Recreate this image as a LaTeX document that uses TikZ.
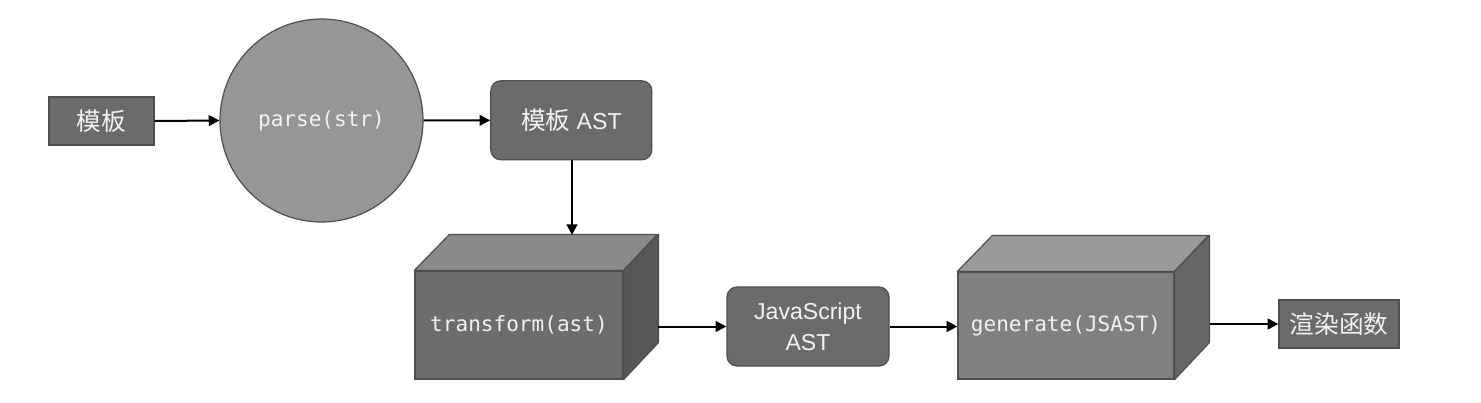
\documentclass[tikz,border=0pt]{standalone}
\usepackage{fontspec}
\setmainfont{Liberation Sans}
\newfontfamily\cjk{Noto Sans CJK SC}
\newfontfamily\monof{DejaVu Sans Mono}
\usetikzlibrary{arrows.meta}
\definecolor{boxfill}{HTML}{6B6B6B}
\definecolor{edgec}{HTML}{4F4F4F}
\definecolor{circfill}{HTML}{969696}
\definecolor{cubeAfront}{HTML}{6D6D6D}
\definecolor{cubeAtop}{HTML}{8A8A8A}
\definecolor{cubeAside}{HTML}{575757}
\definecolor{cubeBfront}{HTML}{808080}
\definecolor{cubeBtop}{HTML}{9A9A9A}
\definecolor{cubeBside}{HTML}{666666}
\definecolor{txt}{HTML}{F2F2F2}
\begin{document}
\begin{tikzpicture}[x=0.75pt,y=-0.75pt,
  base/.style={draw=edgec, line width=0.9pt, text=txt, inner sep=0pt, align=center},
  plainbox/.style={base, fill=boxfill, rectangle},
  roundbox/.style={base, fill=boxfill, rectangle, rounded corners=7.5pt},
  procball/.style={base, fill=circfill, circle},
  cubefront/.style={base, rectangle},
  facestyle/.style={draw=edgec, line width=0.9pt, line join=round},
  conn/.style={line width=1.5pt, -{Triangle[length=8pt,width=8pt]}},
  cjktext/.style={font=\cjk\fontsize{18.5}{22}\selectfont},
  sanstext/.style={font=\fontsize{17.3}{23}\selectfont},
  monotext/.style={font=\monof\fontsize{15.8}{18}\selectfont}
]
\useasboundingbox (0,0) rectangle (1481,403);
\fill[white] (0,0) rectangle (1481,403);

% nodes
\node[plainbox, cjktext, minimum width=78.75pt, minimum height=36pt] (tpl) at (101.5,121) {模板};
\node[procball, monotext, minimum size=152.25pt] (parse) at (321.5,120.5) {parse(str)};
\node[roundbox, sanstext, minimum width=120.75pt, minimum height=59.25pt] (tast) at (571.3,120.3) {{\cjk\fontsize{18.5}{22}\selectfont 模板} AST};

% transform cube
\node[cubefront, fill=cubeAfront, minimum width=156pt, minimum height=81pt] (tf) at (519,325) {};
\filldraw[facestyle, fill=cubeAtop] (tf.north west) -- ++(35,-36) -- ++(208,0) -- (tf.north east) -- cycle;
\filldraw[facestyle, fill=cubeAside] (tf.north east) -- ++(35,-36) -- ++(0,108) -- (tf.south east) -- cycle;
\node[monotext, text=txt] (tftext) at (tf.center) {transform(ast)};

\node[roundbox, sanstext, minimum width=121.5pt, minimum height=59.25pt] (jsast) at (808,326.5) {JavaScript\\AST};

% generate cube
\node[cubefront, fill=cubeBfront, minimum width=162pt, minimum height=80.25pt] (gen) at (1066,325.5) {};
\filldraw[facestyle, fill=cubeBtop] (gen.north west) -- ++(35,-36) -- ++(216,0) -- (gen.north east) -- cycle;
\filldraw[facestyle, fill=cubeBside] (gen.north east) -- ++(35,-36) -- ++(0,107) -- (gen.south east) -- cycle;
\node[monotext, text=txt] (gentext) at (gen.center) {generate(JSAST)};

\node[plainbox, cjktext, minimum width=90pt, minimum height=36pt] (render) at (1339,324) {渲染函数};

% connector end points on the cubes
\coordinate (tfin) at (572,235);
\coordinate (tfout) at (658,326.5);
\coordinate (genout) at (1210,324);

% connectors
\draw[conn] (tpl.east) -- (parse.west);
\draw[conn] (parse.east) -- (tast.west);
\draw[conn] (tast.south -| tfin) -- (tfin);
\draw[conn] (tfout) -- (jsast.west);
\draw[conn] (jsast.east) -- (jsast.east -| gen.west);
\draw[conn] (genout) -- (render.west);
\end{tikzpicture}
\end{document}
